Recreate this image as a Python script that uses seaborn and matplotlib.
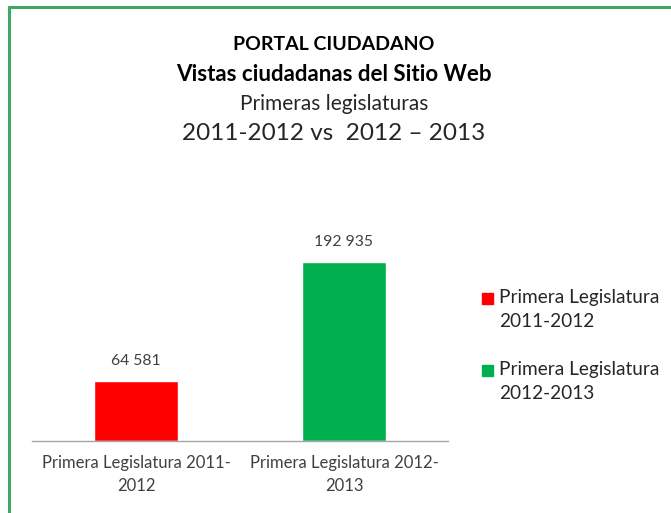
import matplotlib
matplotlib.use("Agg")
import matplotlib.pyplot as plt
import matplotlib.patches as mpatches
import seaborn as sns
import pandas as pd

# =========================================================
# DATA
# =========================================================

categories = ["Primera Legislatura 2011-\n2012", "Primera Legislatura 2012-\n2013"]
series = ["Primera Legislatura\n2011-2012", "Primera Legislatura\n2012-2013"]
values = [64581, 192935]
colors = ["#FF0000", "#00B050"]

title_lines = ["PORTAL CIUDADANO", "Vistas ciudadanas del Sitio Web",
               "Primeras legislaturas", "2011-2012 vs  2012 \u2013 2013"]

df = pd.DataFrame({"cat": categories, "serie": series, "valor": values})

# =========================================================
# PLOT
# =========================================================

sns.set_style("white")
plt.rcParams["font.family"] = ["Lato", "DejaVu Sans"]

W, H = 671, 513
fig = plt.figure(figsize=(W / 100, H / 100), dpi=100)
ax = fig.add_axes([32 / W, 1 - 441 / H, (448 - 32) / W, 232 / H])

sns.barplot(data=df, x="cat", y="valor", hue="serie", palette=colors,
            dodge=False, width=0.4, saturation=1, ax=ax, legend=False)

ax.set_ylim(0, 250000)
ax.set_xlim(-0.5, 1.5)
ax.set_xlabel("")
ax.set_ylabel("")
ax.set_yticks([])
for s in ["top", "right", "left"]:
    ax.spines[s].set_visible(False)
ax.spines["bottom"].set_color("#a6a6a6")
ax.spines["bottom"].set_linewidth(1.0)

# category separators as ticks
ax.set_xticks([-0.5, 0.5, 1.5], minor=True)
ax.tick_params(axis="x", which="minor", length=6, color="#a6a6a6", width=1)
ax.tick_params(axis="x", which="major", length=0, pad=10, labelsize=12,
               labelcolor="#404040")
for lbl in ax.get_xticklabels():
    lbl.set_ha("center")
    lbl.set_multialignment("center")
    lbl.set_linespacing(1.55)

for i, v in enumerate(values):
    ax.text(i, v + 14000, f"{v:,}".replace(",", " "), ha="center", va="bottom",
            fontsize=11.3, color="#404040")

# legend (square aligned with the first text line, as in the original)
for i, (lab, c) in enumerate(zip(series, colors)):
    y0 = 293 + 72 * i
    fig.add_artist(mpatches.Rectangle((482 / W, 1 - (y0 + 11) / H), 11 / W, 11 / H,
                                      color=c, transform=fig.transFigure))
    fig.text(499 / W, 1 - (y0 - 4) / H, lab, ha="left", va="top",
             fontsize=13.7, color="#262626", linespacing=1.5)

# title
ys = [45, 75, 104, 134]
sizes = [14, 16, 15, 17.5]
for i, (t, y, fs) in enumerate(zip(title_lines, ys, sizes)):
    fig.text(334 / W, 1 - y / H, t, ha="center", va="center",
             fontsize=fs, fontweight="bold" if i < 2 else "normal",
             color="#000000" if i < 2 else "#262626")

# frame (partially cropped, as in the original)
fig.add_artist(plt.Line2D([8.5 / W, 8.5 / W], [0, 1 - 7 / H], color="#3fa66a", lw=2.2,
                          transform=fig.transFigure))
fig.add_artist(plt.Line2D([8.5 / W, 1], [1 - 7 / H, 1 - 7 / H], color="#3fa66a", lw=2.2,
                          transform=fig.transFigure))

fig.savefig("out.png", dpi=100)
